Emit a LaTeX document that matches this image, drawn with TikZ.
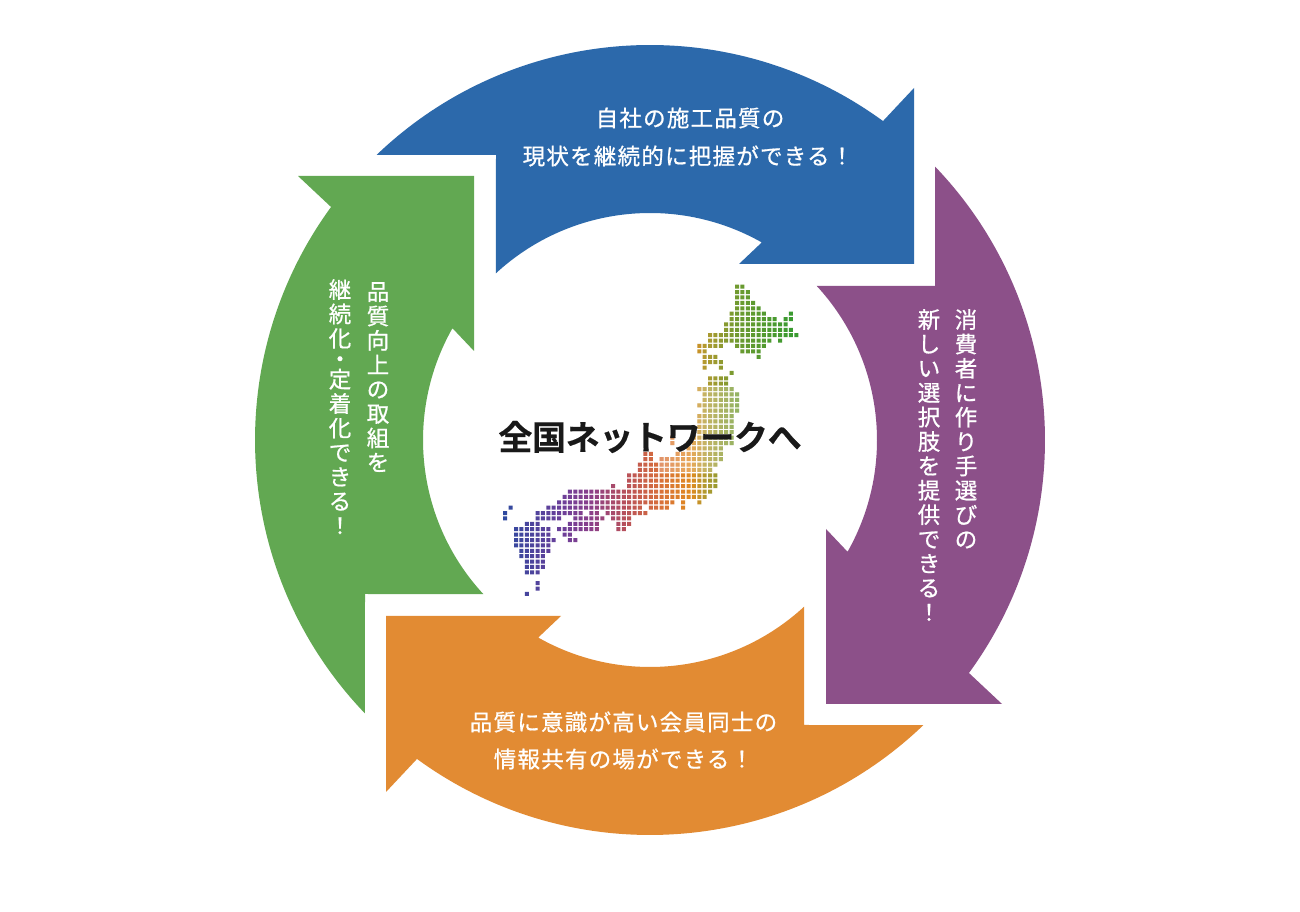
\documentclass[tikz,border=0pt]{standalone}
\usepackage{fontspec}
\newfontfamily\cjk[FakeBold=0.8,LetterSpace=5.5]{Noto Sans CJK JP}
\newfontfamily\cjkv[FakeBold=0.8]{Noto Sans CJK JP}
\newfontfamily\cjkb[LetterSpace=-1,FakeBold=0.5]{Noto Sans CJK JP Bold}
\definecolor{cblue}{HTML}{2C69AB}
\definecolor{cpurple}{HTML}{8C5089}
\definecolor{corange}{HTML}{E28B33}
\definecolor{cgreen}{HTML}{62A852}
\definecolor{m1}{HTML}{2A4A9F}
\definecolor{m2}{HTML}{6A3F9A}
\definecolor{m3}{HTML}{8A3F8A}
\definecolor{m4}{HTML}{B8505A}
\definecolor{m5}{HTML}{D8703A}
\definecolor{m6}{HTML}{E08A20}
\definecolor{m7}{HTML}{B09A30}
\definecolor{m8}{HTML}{6A9A30}
\definecolor{m9}{HTML}{3A9A30}
\pgfdeclarehorizontalshading{mapshade}{100bp}{color(0bp)=(m1); color(25.8bp)=(m1); color(35.5bp)=(m2); color(40.3bp)=(m3); color(46bp)=(m4); color(51.6bp)=(m5); color(56.5bp)=(m6); color(58.9bp)=(m7); color(64.5bp)=(m8); color(72.6bp)=(m9); color(100bp)=(m9)}
\tikzset{
  label h/.style={text=white,font=\cjk\fontsize{22.5}{26}\selectfont,inner sep=0pt},
  label v/.style={text=white,font=\cjkv\fontsize{22.5}{24.4}\selectfont,inner sep=0pt,align=center},
}
\newcommand{\ringarrow}[2]{%
  \fill[#1,rotate=#2] (133.8:395) arc[start angle=133.8,end angle=53.85,radius=395]
    -- (264,352) -- (264,176) -- (89,176) -- (60.5:227)
    arc[start angle=60.5,end angle=132.8,radius=227] -- (-154,285) -- cycle;}
\begin{document}
\begin{tikzpicture}[x=1pt,y=1pt]
\useasboundingbox (0,0) rectangle (1300,912);
\fill[white] (0,0) rectangle (1300,912);
\begin{scope}[shift={(650,472)}]
\ringarrow{cblue}{0}
\ringarrow{cpurple}{-90}
\ringarrow{corange}{180}
\ringarrow{cgreen}{90}
\end{scope}
\begin{scope}
\clip foreach \r/\a/\b in {0/0/1,1/0/2,2/0/2,3/0/3,4/0/4,5/-1/5,5/10/10,6/-1/7,6/9/10,7/-2/9,8/-2/10,9/-5/11,10/-5/6,10/8/8,11/-7/-3,11/0/5,12/-7/-6,12/1/4,13/-6/-4,13/4/4,14/-6/-3,15/-6/-6,15/-3/-3,16/-1/-1,17/-5/-2,18/-5/-2,19/-7/-1,20/-6/0,21/-6/0,22/-7/0,23/-6/0,24/-7/-1,25/-7/-1,26/-7/-1,27/-7/-1,28/-12/-12,28/-8/-1,29/-12/-12,29/-9/-1,30/-9/-3,31/-17/-16,31/-11/-3,32/-17/-16,32/-14/-3,33/-18/-4,34/-18/-5,35/-20/-4,36/-20/-4,37/-23/-23,37/-20/-4,38/-31/-5,39/-32/-6,40/-33/-12,40/-10/-10,40/-7/-7,41/-42/-42,41/-35/-18,41/-16/-13,41/-10/-10,42/-43/-43,42/-37/-29,42/-27/-26,42/-24/-17,43/-43/-43,43/-37/-33,43/-30/-25,43/-23/-20,44/-39/-37,44/-31/-26,44/-22/-20,45/-41/-35,45/-33/-26,45/-22/-21,46/-41/-35,46/-32/-31,47/-41/-34,47/-31/-30,48/-41/-35,49/-40/-35,50/-40/-36,51/-39/-36,52/-39/-36,53/-39/-37,55/-37/-37,56/-37/-37,57/-39/-39} {
  foreach \c in {\a,...,\b} {
    ({737+5.39*\c-2},{912-286.7-5.39*\r-2}) rectangle ++(4,4)
  }
};
\shade[shading=mapshade] (495,270) rectangle (805,640);
\fill[white,opacity=.25] (660,{912-472}) rectangle (750,{912-385});
\end{scope}
\node[label h] (t1a) at (690,{912-118}) {自社の施工品質の};
\node[label h] (t1b) at (688,{912-156}) {現状を継続的に把握ができる！};
\node[label h] (t3a) at (623.5,{912-722}) {品質に意識が高い会員同士の};
\node[label h] (t3b) at (623.5,{912-759}) {情報共有の場ができる！};
\node[label v,anchor=north] (t2a) at (966,{912-309}) {消\\費\\者\\に\\作\\り\\手\\選\\び\\の};
\node[label v,anchor=north] (t2b) at (929,{912-309}) {新\\し\\い\\選\\択\\肢\\を\\提\\供\\で\\き\\る\\！};
\node[label v,anchor=north] (t4a) at (378,{912-282}) {品\\質\\向\\上\\の\\取\\組\\を};
\node[label v,anchor=north] (t4b) at (340,{912-279}) {継\\続\\化\\[-4pt]・\\[-4pt]定\\着\\化\\で\\き\\る\\！};
\node[text=black!90,font=\cjkb\fontsize{34}{40}\selectfont,inner sep=0pt] (c) at (650,{912-437}) {全国ネットワークへ};
\end{tikzpicture}
\end{document}
